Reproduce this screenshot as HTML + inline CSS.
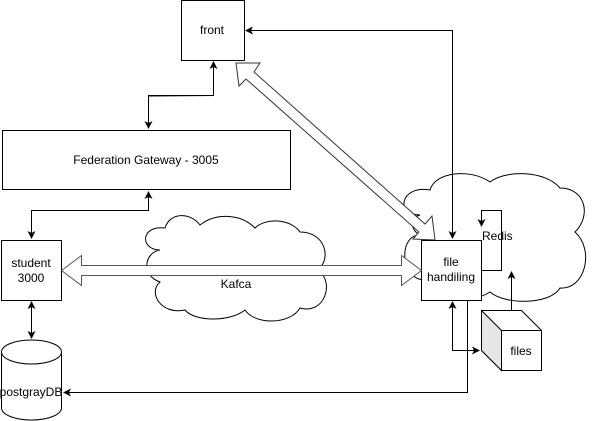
<!DOCTYPE html>
<html><head><style>body{margin:0;background:#fff}svg{display:block}text{font-family:"Liberation Sans",sans-serif;font-size:12px;fill:#000}</style></head><body>
<svg width="602" height="421" viewBox="0 0 602 421" xmlns="http://www.w3.org/2000/svg">
<defs><marker id="a" markerWidth="8" markerHeight="8" refX="7" refY="4" orient="auto" markerUnits="userSpaceOnUse"><path d="M0,0 L8,4 L0,8 L2,4z" fill="#000"/></marker></defs>
<g fill="#fff" stroke="#000" stroke-width="1">
<path d="M420,215 C395,215 400,185 430,190 C435,172 470,168 490,182 C505,170 545,170 560,188 C585,188 592,215 575,232 C595,250 585,290 560,288 C550,305 505,305 490,292 C470,305 430,300 425,280 C400,280 398,235 420,235 C410,230 410,218 420,215Z"/>
<path d="M160,250 C140,250 140,225 165,228 C170,212 190,212 200,225 C215,213 240,213 255,228 C265,218 290,218 300,232 C325,232 332,258 318,270 C335,282 325,315 300,308 C290,325 255,325 245,310 C230,322 195,322 185,310 C160,315 148,292 160,282 C140,275 145,252 160,250Z"/>
<rect x="181.5" y="0.5" width="63" height="60"/>
<rect x="2.5" y="130.5" width="288" height="59"/>
<rect x="1.5" y="240.5" width="60" height="60"/>
<path d="M236,63 L260,63 L254,72 L425,224 L432,216 L435,240 L413,239 L419,232 L246,79 L239,86Z" stroke="#333"/>
<rect x="421.5" y="240.5" width="60" height="60"/>
<path d="M1.5,352 L1.5,408 A30,12 0 0 0 61.5,408 L61.5,352"/>
<ellipse cx="31.5" cy="352" rx="30" ry="12"/>
<path d="M481.5,310.5 L521.5,310.5 L541.5,330.5 L541.5,370.5 L501.5,370.5 L481.5,350.5Z"/>
<path d="M481.5,310.5 L501.5,330.5 L501.5,370.5 L481.5,350.5Z" fill="#e6e6e6"/>
<path d="M501.5,330.5 L541.5,330.5"/>
<path d="M61.5,270.5 L81.5,255.5 L81.5,265.5 L401.5,265.5 L401.5,255.5 L421.5,270.5 L401.5,285.5 L401.5,275.5 L81.5,275.5 L81.5,285.5Z" stroke="#555"/>
</g>
<g fill="none" stroke="#000" stroke-width="1">
<path d="M213.5,96 L213.5,95.5 L148.5,95.5 L148.5,128" marker-end="url(#a)"/>
<path d="M148.5,96 L213.5,95.5 L213.5,62" marker-end="url(#a)"/>
<path d="M31.5,210.5 L148.5,210.5 L148.5,192" marker-end="url(#a)"/>
<path d="M148.5,210.5 L31.5,210.5 L31.5,238" marker-end="url(#a)"/>
<path d="M31.5,320 L31.5,338" marker-end="url(#a)"/>
<path d="M31.5,320 L31.5,302" marker-end="url(#a)"/>
<path d="M452.5,100 L452.5,30.5 L246,30.5" marker-end="url(#a)"/>
<path d="M452.5,100 L452.5,238" marker-end="url(#a)"/>
<path d="M481.5,270.5 L501.5,270.5 L501.5,210.5 L481.5,210.5 L481.5,226" marker-end="url(#a)"/>
<path d="M511.5,310 L511.5,272" marker-end="url(#a)"/>
<path d="M452.5,330 L452.5,302" marker-end="url(#a)"/>
<path d="M452.5,330 L452.5,350.5 L479,350.5" marker-end="url(#a)"/>
<path d="M467.5,300 L467.5,392.5 L64,392.5" marker-end="url(#a)"/>
</g>
<text x="212" y="34" text-anchor="middle">front</text>
<text x="146" y="164" text-anchor="middle">Federation Gateway - 3005</text>
<text x="31" y="267" text-anchor="middle">student</text>
<text x="31" y="282" text-anchor="middle">3000</text>
<text x="236" y="288" text-anchor="middle">Kafca</text>
<text x="451" y="266" text-anchor="middle">file</text>
<text x="451" y="281" text-anchor="middle">handiling</text>
<text x="482" y="240">Redis</text>
<text x="521" y="355" text-anchor="middle">files</text>
<text x="31" y="396" text-anchor="middle">postgrayDB</text>
</svg>
</body></html>
